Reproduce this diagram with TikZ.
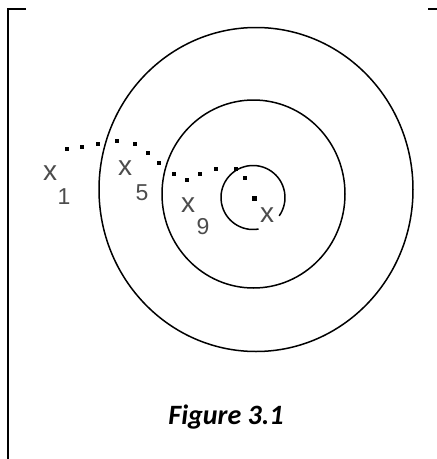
\documentclass[tikz,border=0pt]{standalone}
\usepackage{fontspec}
\newfontfamily\labelfont{Liberation Sans}
\newfontfamily\capfont{Carlito}
\usetikzlibrary{positioning}

\begin{document}
\begin{tikzpicture}[
        x = 1pt, y = -1pt,
        ring/.style = {draw = black, line width = 1.5pt},
        frame line/.style = {draw = black, line width = 1.8pt},
        trail dot/.style = {fill = black, inner sep = 0pt, minimum size = 3.6pt},
        point/.style = {font = \labelfont\fontsize{28}{28}\selectfont, text = black!70, inner sep = 0pt},
        index/.style = {font = \labelfont\fontsize{23}{23}\selectfont, text = black!70, inner sep = 0pt}
    ]
      \useasboundingbox (0,0) rectangle (437,459);

      % frame
      \draw[frame line] (26,9) -- (8,9) -- (8,459);
      \draw[frame line] (428,9) -- (437,9);

      % rings
      \coordinate (outer) at (256,189.5);
      \coordinate (middle) at (253.5,194);
      \coordinate (inner) at (253,197.5);
      \draw[ring] (outer) ellipse [x radius = 157, y radius = 162];
      \draw[ring] (middle) ellipse [x radius = 91.5, y radius = 94];
      \draw[ring] (inner) ++(80:32) arc [start angle = 80, end angle = 395, radius = 32];
      \node[trail dot, minimum size = 5pt] (limit) at (254,198) {};

      % iterates
      \foreach \px/\py [count = \i] in {67/149, 82/147, 98/144, 117/141, 135/144, 148/153,
          159/163, 174/174, 187/180, 200/174, 216/169, 236/169, 245/178}
        \node[trail dot] (d\i) at (\px,\py) {};

      \node[point] (x1) at (50,173) {x};
      \node[index] (n1) at (64,197) {1};
      \node[point] (x5) at (125,168) {x};
      \node[index] (n5) at (142,193) {5};
      \node[point] (x9) at (188,205) {x};
      \node[index] (n9) at (203,227) {9};
      \node[point] (xs) at (267,215) {x};

      \node[font = \capfont\bfseries\itshape\fontsize{28}{28}\selectfont] (caption) at (226,417) {Figure 3.1};
\end{tikzpicture}
\end{document}
